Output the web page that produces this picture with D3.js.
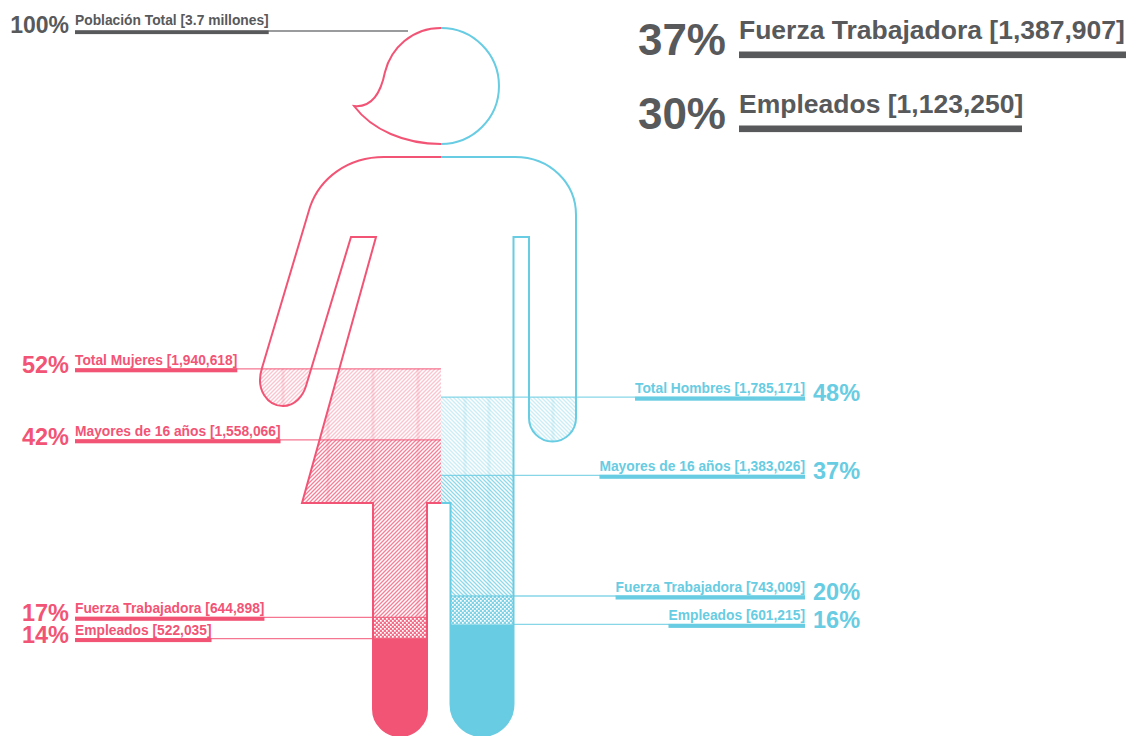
<!DOCTYPE html>
<html>
<head>
<meta charset="utf-8">
<script src="https://cdn.jsdelivr.net/npm/d3@7"></script>
<style>
	html, body { margin: 0; padding: 0; background: #fff; overflow: hidden; }
	text { font-family: "Liberation Sans", Arial, sans-serif; font-weight: bold; }
</style>
</head>
<body>
<div id="graphic"></div>
<script>
const totalPct = 100;
const totalLabel = 'Población Total [3.7 millones]';

const womenPct = [52, 42, 17, 14];
const womenLabels = ['Total Mujeres [1,940,618]', 'Mayores de 16 años [1,558,066]', 'Fuerza Trabajadora [644,898]', 'Empleados [522,035]'];

const menPct = [48, 37, 20, 16];
const menLabels = ['Total Hombres [1,785,171]', 'Mayores de 16 años [1,383,026]', 'Fuerza Trabajadora [743,009]', 'Empleados [601,215]'];

const summaryPct = [37, 30];
const summaryLabels = ['Fuerza Trabajadora [1,387,907]', 'Empleados [1,123,250]'];

const pink = '#f25475';
const blue = '#68cce2';
const grey = '#58595b';

let width = 1126;
let height = 736;

let svg = d3.select('#graphic').append('svg')
	.attr('width', width)
	.attr('height', height)
	.style('display', 'block');

// the figure itself is the y axis: 100% at the top of the head, 0% under the feet
const y = d3.scaleLinear().domain([0, 100]).range([738, 28]);

// silhouette outlines, split down the middle
const head = {
	women: 'M441,28 C412,28 391,48 385,72 C381,92 373,108 354,106 C372,130 405,144 441,144',
	men: 'M441,28 A58,58 0 0 1 441,144'
};
const womenBody = 'M441,157 L384,157 C348,157 320,178 310,207 L262,368 C255,390 268,406 283,406 C295,406 303,396 306,386 L351,237 L376,237 L302,503 L373,503 L373,709 A27,27 0 0 0 427,709 L427,503 L441,503';
const menBody = 'M441,157 L515,157 C550,157 576,183 576,215 L576,418 A23.5,23.5 0 0 1 529,418 L529,237 L513.5,237 L513.5,704 A31.5,32 0 0 1 450.5,704 L450.5,503 L441,503';

let defs = svg.append('defs');

// 4px diagonal tile, mirrored for the men
function hatch(id, colour, opacity, sw, mirror) {
	let p = defs.append('pattern')
		.attr('id', id)
		.attr('patternUnits', 'userSpaceOnUse')
		.attr('width', 4)
		.attr('height', 4);
	p.append('path')
		.attr('d', mirror ? 'M-1,-1 L5,5 M-1,3 L1,5 M3,-1 L5,1' : 'M-1,5 L5,-1 M-1,1 L1,-1 M3,5 L5,3')
		.attr('stroke', colour)
		.attr('stroke-opacity', opacity)
		.attr('stroke-width', sw);
}

function checker(id, colour) {
	let p = defs.append('pattern')
		.attr('id', id)
		.attr('patternUnits', 'userSpaceOnUse')
		.attr('width', 4)
		.attr('height', 4);
	p.append('rect').attr('width', 4).attr('height', 4).attr('fill', colour).attr('opacity', 0.85);
	p.append('rect').attr('x', 0).attr('y', 0).attr('width', 1.7).attr('height', 1.7).attr('fill', '#fff');
	p.append('rect').attr('x', 2).attr('y', 2).attr('width', 1.7).attr('height', 1.7).attr('fill', '#fff');
}

hatch('women-light', pink, 0.34, 1.4, false);
hatch('women-dense', pink, 0.75, 1.3, false);
hatch('men-light', blue, 0.34, 1.4, true);
hatch('men-dense', blue, 0.75, 1.3, true);
checker('women-cross', pink);
checker('men-cross', blue);

defs.append('clipPath').attr('id', 'women-clip').append('path').attr('d', womenBody + ' Z');
defs.append('clipPath').attr('id', 'men-clip').append('path').attr('d', menBody + ' Z');

function drawSide(side, pct, colour, seams, x0, x1) {
	let g = svg.append('g').attr('clip-path', 'url(#' + side + '-clip)');
	let levels = pct.concat([0]);
	let fills = ['url(#' + side + '-light)', 'url(#' + side + '-dense)', 'url(#' + side + '-cross)', colour];

	g.selectAll('rect.level')
		.data(pct)
		.join('rect')
		.attr('class', 'level')
		.attr('x', x0)
		.attr('width', x1 - x0)
		.attr('y', (d) => y(d))
		.attr('height', (d, i) => y(levels[i + 1]) - y(d))
		.attr('fill', (d, i) => fills[i]);

	// darker joins where the hatch tiles overlap
	g.selectAll('rect.seam')
		.data(seams)
		.join('rect')
		.attr('class', 'seam')
		.attr('x', (d) => d - 1.5)
		.attr('width', 3)
		.attr('y', y(pct[0]))
		.attr('height', y(pct[2]) - y(pct[0]))
		.attr('fill', colour)
		.attr('opacity', 0.14);
}

drawSide('women', womenPct, pink, [283, 328, 373, 418], 240, 441);
drawSide('men', menPct, blue, [465, 489, 553], 441, 600);

// thin leader lines
function leader(x1, x2, yPos, colour) {
	svg.append('line')
		.attr('x1', x1).attr('x2', x2)
		.attr('y1', yPos).attr('y2', yPos)
		.attr('stroke', colour)
		.attr('stroke-opacity', 0.8)
		.attr('stroke-width', 1.3);
}

womenPct.forEach((d, i) => leader(75, [441, 441, 427, 427][i], y(d), pink));
menPct.forEach((d, i) => leader([441, 441, 450, 514][i], 805, y(d), blue));
leader(75, 408, 31, grey);

// outlines
[[head.women, pink], [head.men, blue], [womenBody, pink], [menBody, blue]].forEach((d) => {
	svg.append('path')
		.attr('d', d[0])
		.attr('fill', 'none')
		.attr('stroke', d[1])
		.attr('stroke-width', 2)
		.attr('stroke-linejoin', 'miter');
});

// label, thick underline and percentage for one row
function labelRow(o) {
	let t = svg.append('text')
		.attr('x', o.x)
		.attr('y', o.yPos - o.labelUp)
		.attr('text-anchor', o.right ? 'end' : 'start')
		.attr('fill', o.colour)
		.attr('font-size', o.labelSize)
		.text(o.label);
	let w = o.barWidth || t.node().getComputedTextLength();
	svg.append('rect')
		.attr('x', o.right ? o.x - w : o.x)
		.attr('y', o.yPos - 0.5)
		.attr('width', w)
		.attr('height', o.barHeight)
		.attr('fill', o.colour);
	svg.append('text')
		.attr('x', o.pctX)
		.attr('y', o.yPos + o.pctDown)
		.attr('text-anchor', o.right ? 'start' : 'end')
		.attr('fill', o.colour)
		.attr('font-size', o.pctSize)
		.text(o.pct + '%');
}

labelRow({ x: 75, yPos: 31, label: totalLabel, pct: totalPct, colour: grey, labelSize: 13.8, labelUp: 6, barHeight: 3.6, pctX: 69, pctDown: 1.5, pctSize: 23 });

womenPct.forEach((d, i) => {
	labelRow({ x: 75, yPos: y(d), label: womenLabels[i], pct: d, colour: pink, labelSize: 13.8, labelUp: 4, barHeight: 4, pctX: 69, pctDown: [4, 5, 4, 4][i], pctSize: 23.5 });
});

menPct.forEach((d, i) => {
	labelRow({ x: 805, right: true, yPos: y(d), label: menLabels[i], pct: d, colour: blue, labelSize: 13.8, labelUp: 4, barHeight: 4, pctX: 813, pctDown: 4, pctSize: 23.5 });
});

const summaryY = [52, 126];
const summaryBar = [387, 283];
summaryPct.forEach((d, i) => {
	labelRow({ x: 739, yPos: summaryY[i], label: summaryLabels[i], pct: d, colour: grey, labelSize: 26.5, labelUp: 13, barHeight: 6.6, barWidth: summaryBar[i], pctX: 726, pctDown: 3, pctSize: 44 });
});
</script>
</body>
</html>
